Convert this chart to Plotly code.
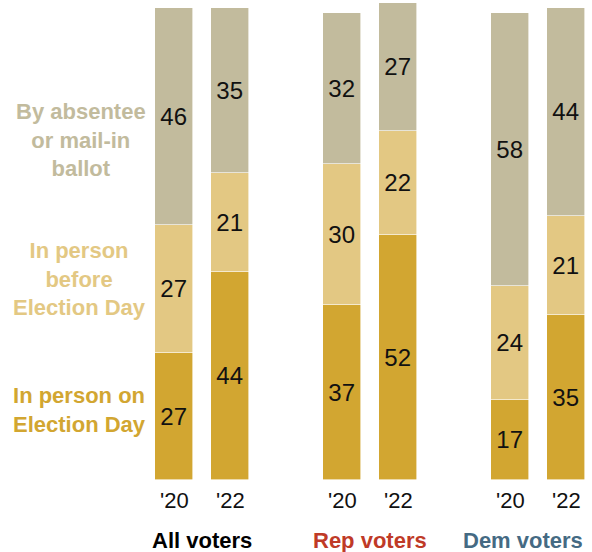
import plotly.graph_objects as go

# Survey shares (%) by voting method, per group and election year
groups = ["All voters", "Rep voters", "Dem voters"]
group_colors = ["#000000", "#BF3A27", "#456A83"]
years = ["'20", "'22"]

election_day = [27, 44, 37, 52, 17, 35]
before_day = [27, 21, 30, 22, 24, 21]
absentee = [46, 35, 32, 27, 58, 44]

series_names = ["In person on\nElection Day", "In person\nbefore\nElection Day", "By absentee\nor mail-in\nballot"]
series_colors = ["#D2A631", "#E3C883", "#C2BB9D"]
series_values = [election_day, before_day, absentee]
# vertical placement of the series labels (in % units of the value axis)
series_label_y = [14.8, 42.6, 72.0]

# bar positions: two bars per group, groups spaced three slots apart
xpos = [3 * g + i for g in range(len(groups)) for i in range(len(years))]
BAR_W = 0.68

fig = go.Figure()
for name, color, vals in zip(series_names, series_colors, series_values):
    fig.add_trace(go.Bar(
        x=xpos, y=vals, width=BAR_W,
        marker=dict(color=color, line=dict(color="white", width=0.6)),
        text=[str(v) for v in vals], textposition="inside",
        insidetextanchor="middle", textangle=0,
        textfont=dict(family="Liberation Sans, Arial, sans-serif", size=24, color="#111111"),
        name=name.replace("\n", " "), showlegend=False, hoverinfo="skip",
        cliponaxis=False,
    ))

annotations = []
# year labels under each bar
for k, x in enumerate(xpos):
    annotations.append(dict(x=x, y=0, xref="x", yref="y", yanchor="top", yshift=-6,
                            text=years[k % 2], showarrow=False,
                            font=dict(family="Liberation Sans, Arial, sans-serif", size=22, color="#111111")))
# group labels; the last one is kept inside the right edge
for g, (label, col) in enumerate(zip(groups, group_colors)):
    last = g == len(groups) - 1
    annotations.append(dict(x=(3 * g + 1 + BAR_W / 2) if last else (3 * g + 0.5), y=0,
                            xref="x", yref="y", yanchor="top", yshift=-46,
                            xanchor="right" if last else "center",
                            text="<b>" + label + "</b>", showarrow=False,
                            font=dict(family="Liberation Sans Narrow, Arial Narrow, sans-serif", size=22, color=col)))

# series labels beside the first stacked bar
for name, color, ly in zip(series_names, series_colors, series_label_y):
    annotations.append(dict(x=-0.47, y=ly, xref="x", yref="y", xanchor="right", yanchor="middle",
                            align="center", text="<b>" + name.replace("\n", "<br>") + "</b>",
                            showarrow=False,
                            font=dict(family="Liberation Sans Narrow, Arial Narrow, sans-serif", size=22, color=color)))

fig.update_layout(
    barmode="stack", bargap=0,
    width=592, height=552,
    margin=dict(l=0, r=0, t=0, b=72),
    paper_bgcolor="white", plot_bgcolor="white",
    xaxis=dict(range=[-174 / 56, 418 / 56], visible=False, fixedrange=True),
    yaxis=dict(range=[0, 480 / 4.72], visible=False, fixedrange=True),
    annotations=annotations,
)

fig.write_html("out.html")
